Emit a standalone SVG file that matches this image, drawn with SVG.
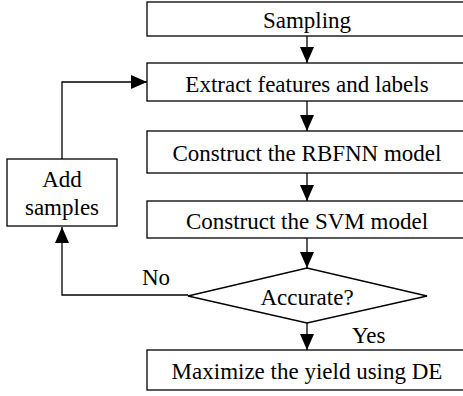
<svg xmlns="http://www.w3.org/2000/svg" width="463" height="396" viewBox="0 0 463 396">
<style>
.box{fill:#fff;stroke:#000;stroke-width:1.3}
.ln{fill:none;stroke:#000;stroke-width:1.3}
.t{font-size:23px;fill:#000}
.c{text-anchor:middle}
</style>
<defs>
<marker id="ah" markerUnits="userSpaceOnUse" markerWidth="18" markerHeight="16" refX="16" refY="7" orient="auto">
<path d="M0,0 L16,7 L0,14 Z" fill="#000"/>
</marker>
</defs>
<g font-family="'Liberation Serif', 'Times New Roman', 'DejaVu Serif', serif">
<g id="connectors">
<line class="ln" x1="307" y1="36" x2="307" y2="63" marker-end="url(#ah)"/>
<line class="ln" x1="307" y1="101" x2="307" y2="131" marker-end="url(#ah)"/>
<line class="ln" x1="307" y1="173" x2="307" y2="201" marker-end="url(#ah)"/>
<line class="ln" x1="307" y1="238" x2="307" y2="268" marker-end="url(#ah)"/>
<line class="ln" x1="307" y1="323" x2="307" y2="350" marker-end="url(#ah)"/>
<polyline class="ln" points="188,295 62,295 62,227" marker-end="url(#ah)"/>
<polyline class="ln" points="62,159 62,82 147,82" marker-end="url(#ah)"/>
<text class="t" x="142" y="285">No</text>
<text class="t" x="352" y="343">Yes</text>
</g>
<g id="sampling">
<rect class="box" x="147" y="2" width="330" height="34"/>
<text class="t c" x="307" y="28">Sampling</text>
</g>
<g id="extract">
<rect class="box" x="147" y="63" width="330" height="38"/>
<text class="t c" x="307" y="92">Extract features and labels</text>
</g>
<g id="rbfnn">
<rect class="box" x="147" y="131" width="330" height="42"/>
<text class="t c" x="307" y="161">Construct the RBFNN model</text>
</g>
<g id="svm">
<rect class="box" x="147" y="201" width="330" height="37"/>
<text class="t c" x="307" y="229">Construct the SVM model</text>
</g>
<g id="accurate">
<polygon class="box" points="188,296 307,268 427,296 307,323"/>
<text class="t c" x="307" y="305">Accurate?</text>
</g>
<g id="maximize">
<rect class="box" x="147" y="350" width="330" height="40"/>
<text class="t c" x="307" y="379">Maximize the yield using DE</text>
</g>
<g id="add">
<rect class="box" x="7" y="159" width="110" height="67"/>
<text class="t c" x="62" y="187">Add</text>
<text class="t c" x="62" y="215">samples</text>
</g>
</g>
</svg>
